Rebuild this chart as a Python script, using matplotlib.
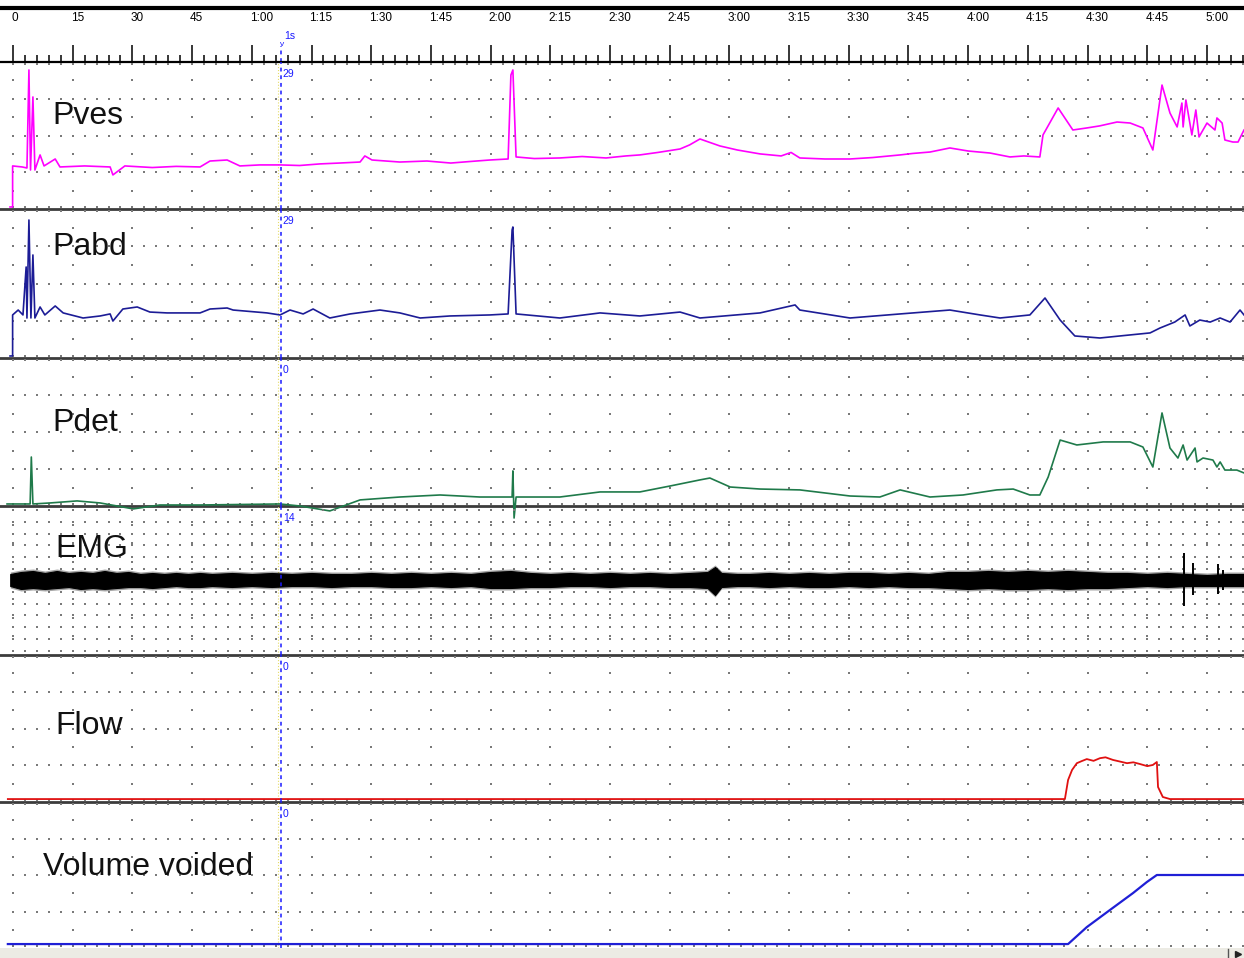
import numpy as np
import matplotlib.pyplot as plt
from matplotlib.patches import Rectangle
from matplotlib.lines import Line2D

plt.rcParams['font.family'] = ['Liberation Sans', 'DejaVu Sans']

W, H = 1244, 958
T_LEFT, T_RIGHT = -3.27, 309.3

# time ruler (seconds)
tick_secs = list(range(0, 301, 15))
tick_labels = ['0', '15', '30', '45', '1:00', '1:15', '1:30', '1:45', '2:00', '2:15', '2:30',
               '2:45', '3:00', '3:15', '3:30', '3:45', '4:00', '4:15', '4:30', '4:45', '5:00']

cursor_t = 67.3
cursor_vals = ['29', '29', '0', '14', '0', '0']

# Pves (cmH2O)
pves_t = [-0.75, -0.1, -0.1, 2.3, 3.5, 4.0, 4.4, 5.0, 5.5, 6.8, 7.8, 10.6, 11.8, 18.0, 24.4,
          25.1, 28.1, 35.0, 41.0, 47.0, 49.5, 53.8, 57.0, 62.0, 67.3, 72.0, 77.1, 82.0, 87.2,
          88.4, 90.2, 97.2, 104.0, 110.0, 115.0, 119.8, 124.4, 125.1, 125.6, 126.4, 131.0,
          137.4, 143.0, 149.0, 154.0, 157.5, 162.0, 167.6, 170.0, 172.6, 177.6, 182.0, 187.7,
          193.0, 195.5, 197.7, 204.0, 210.3, 216.0, 222.9, 226.0, 230.4, 235.4, 240.0, 245.5,
          250.5, 254.0, 258.0, 258.8, 262.6, 266.3, 269.8, 273.0, 277.4, 280.7, 283.9, 286.4,
          288.7, 290.7, 292.5, 293.7, 294.0, 294.7, 296.2, 297.2, 298.0, 300.0, 302.0, 302.5,
          303.8, 304.5, 306.5, 307.8, 309.3]
pves = [0, 0, 28.3, 27.6, 26.9, 94.5, 25.5, 75.9, 25.5, 35.9, 28.3, 33.1, 27.6, 28.3, 27.6,
        22.1, 28.3, 27.2, 28.0, 27.6, 31.7, 32.4, 28.3, 29.0, 29.0, 28.6, 29.7, 30.3, 31.0,
        35.2, 32.4, 31.0, 31.7, 30.3, 31.4, 32.4, 33.1, 91.0, 94.5, 34.5, 33.4,
        33.8, 34.8, 33.8, 35.2, 35.9, 37.6, 40.0, 42.8, 46.9, 42.1, 39.3, 36.6,
        35.2, 37.6, 33.8, 33.1, 33.1, 34.1, 35.9, 36.9, 37.9, 40.7, 38.6, 37.2,
        34.5, 35.2, 34.5, 49.7, 68.3, 53.1, 54.5, 55.9, 58.6, 57.9, 54.5, 39.3,
        84.1, 64.8, 55.2, 71.7, 55.2, 73.8, 49.7, 66.9, 48.3, 57.9, 53.1, 61.4,
        57.9, 46.2, 44.8, 44.8, 53.1]

# Pabd (cmH2O)
pabd_t = [-0.75, -0.1, -0.1, 1.3, 2.5, 3.3, 3.5, 4.0, 4.5, 5.0, 5.5, 6.8, 8.0, 10.6, 12.6, 17.6,
          21.9, 24.4, 25.1, 27.6, 31.2, 34.4, 38.7, 47.0, 49.5, 53.8, 55.3, 63.8, 67.1, 69.6,
          72.9, 75.4, 79.6, 84.7, 92.2, 97.2, 102.3, 109.8, 119.8, 124.4, 125.4, 125.6, 126.4,
          137.4, 147.5, 157.5, 167.6, 172.6, 187.7, 196.5, 197.7, 210.3, 222.9, 235.4, 243.0,
          248.0, 255.5, 259.3, 263.1, 266.8, 273.1, 278.1, 285.7, 288.2, 291.9, 294.5, 295.7,
          298.2, 300.8, 303.3, 305.8, 308.3, 309.3]
pabd = [0, 0, 28.3, 31.7, 28.3, 61.4, 26.2, 93.8, 26.2, 69.7, 26.2, 33.8, 28.3, 34.5, 29.7, 26.2,
        27.6, 29.0, 24.1, 32.4, 33.8, 30.3, 29.7, 29.7, 32.4, 33.1, 31.7, 29.7, 28.3, 31.7,
        29.0, 32.4, 26.2, 29.0, 31.7, 29.7, 26.2, 27.6, 28.3, 29.0, 86.9, 89.0, 29.0,
        26.2, 29.7, 27.6, 30.3, 26.2, 29.7, 35.2, 31.7, 26.2, 29.0, 31.7, 28.3,
        26.2, 28.3, 40.0, 24.8, 13.8, 12.4, 13.8, 15.9, 19.3, 23.4, 28.3, 20.7,
        24.8, 23.4, 26.2, 23.4, 31.7, 28.3]

# Pdet (cmH2O)
pdet_t = [-1.5, 4.3, 4.6, 5.0, 9.3, 16.1, 21.9, 30.2, 36.9, 47.0, 67.1, 72.1, 79.6, 87.2, 97.2,
          107.3, 117.3, 125.4, 125.6, 125.9, 126.4, 137.4, 147.5, 157.5, 165.1, 172.6, 175.1,
          180.2, 187.7, 197.7, 210.3, 217.8, 222.9, 230.4, 238.7, 247.2, 251.3, 255.5, 258.0,
          260.1, 263.1, 267.3, 273.9, 280.7, 283.9, 286.4, 288.7, 290.7, 292.7, 294.0, 295.0,
          297.0, 297.5, 299.0, 301.5, 302.5, 303.3, 304.5, 307.5, 309.3]
pdet = [0, 0, 32.4, 0, 0.7, 2.1, 0.7, -3.4, -0.7, -0.7, 0, -1.4, -4.8, 2.8, 4.8,
        6.2, 4.8, 4.8, 22.8, -9.7, 4.8, 4.8, 8.3, 8.3, 12.4, 16.6, 17.9,
        11.7, 10.3, 9.7, 5.5, 4.8, 9.7, 4.8, 6.2, 9.7, 10.3, 6.2, 6.2,
        18.6, 44.1, 40.7, 42.8, 42.8, 39.3, 25.5, 62.8, 38.6, 31.7, 40.7, 30.3,
        38.6, 29.0, 31.7, 30.3, 25.5, 29.0, 23.4, 23.4, 21.4]

# EMG envelope (upper / lower amplitude)
emg_t = [-0.7, 2, 5, 8, 11, 14, 17, 20, 23, 26, 29, 32,
         35, 38, 41, 44, 47, 50, 55, 60, 65, 70, 75, 80,
         85, 90, 95, 100, 105, 110, 115, 120, 125, 130, 135, 140,
         145, 150, 155, 160, 165, 170, 174.5, 176.4, 178, 182, 185, 190,
         195, 200, 205, 210, 215, 220, 225, 230, 235, 240, 245, 250,
         255, 260, 265, 270, 275, 280, 285, 290, 295, 300, 305, 309.3]
emg_hi = [6, 8, 9, 7, 9, 7, 8, 7, 9, 7, 8, 6,
          7, 6, 7, 6, 7, 6, 7, 6, 7, 6, 7, 6,
          6, 7, 6, 7, 6, 7, 6, 8, 9, 7, 6, 7,
          6, 7, 6, 7, 6, 7, 8, 13, 7, 6, 6, 7,
          6, 7, 6, 7, 7, 6, 7, 6, 8, 8, 9, 8,
          9, 8, 9, 8, 7, 7, 6, 7, 6, 5, 6, 6]
emg_lo = [6, 9, 8, 9, 8, 7, 9, 8, 9, 8, 7, 7,
          8, 7, 6, 7, 7, 6, 7, 6, 7, 6, 6, 7,
          6, 6, 7, 7, 6, 7, 6, 8, 8, 7, 7, 6,
          6, 7, 6, 6, 7, 7, 8, 15, 7, 6, 6, 7,
          6, 7, 7, 6, 7, 6, 7, 7, 8, 9, 8, 9,
          9, 8, 9, 8, 8, 7, 6, 7, 6, 6, 6, 6]
emg_spike_t = [294.2, 296.5, 302.7, 304.0]
emg_spike_hi = [27, 17, 16, 10]
emg_spike_lo = [26, 15, 14, 10]

# Flow (ml/s)
flow_t = [-1.3, 264.3, 265.1, 266.1, 267.3, 268.5, 269.8, 271.5, 273.1, 274.5, 276.4, 278.0,
          279.9, 281.5, 283.2, 285.0, 286.4, 287.4, 287.7, 288.9, 290.7, 309.3]
flow = [0, 0, 6.5, 9.9, 12.2, 12.9, 13.6, 13.0, 13.9, 14.2, 13.3, 12.8,
        12.2, 12.5, 11.9, 11.2, 11.6, 12.6, 4.1, 0.7, 0, 0]

# Volume voided (ml)
vol_t = [-1.3, 265.1, 269.8, 275.6, 281.4, 284.9, 287.4, 309.3]
vol = [0, 0, 116, 233, 349, 425, 473, 473]

fig = plt.figure(figsize=(W / 100, H / 100), dpi=100)
fig.patch.set_facecolor('white')


def add_px_axes(top, bottom):
    ax = fig.add_axes([0, 1 - bottom / H, 1, (bottom - top) / H])
    ax.set_xlim(T_LEFT, T_RIGHT)
    ax.set_xticks([])
    ax.set_yticks([])
    ax.patch.set_alpha(0)
    return ax


def draw_dots(ax, row_fracs, col_fracs):
    tr = ax.get_xaxis_transform()
    minor = np.arange(0, T_RIGHT, 3)
    rx, ry = np.meshgrid(minor, row_fracs)
    ax.scatter(rx.ravel(), ry.ravel(), s=2.2, marker='s', c='#7a7a7a', linewidths=0,
               transform=tr, zorder=1)
    cx, cy = np.meshgrid(tick_secs, col_fracs)
    ax.scatter(cx.ravel(), cy.ravel(), s=2.2, marker='s', c='#7a7a7a', linewidths=0,
               transform=tr, zorder=1)


# ruler on top
ruler = add_px_axes(7.5, 62)
ruler.set_ylim(0, 1)
ruler.spines['left'].set_visible(False)
ruler.spines['right'].set_visible(False)
ruler.spines['top'].set_linewidth(3)
ruler.spines['bottom'].set_linewidth(1.6)
ruler.set_xticks(tick_secs)
ruler.set_xticks(np.arange(0, T_RIGHT, 3), minor=True)
ruler.tick_params(axis='x', which='major', direction='in', length=12, width=1.1,
                  labelbottom=False)
ruler.tick_params(axis='x', which='minor', direction='in', length=5, width=1.1)
for s, lab in zip(tick_secs, tick_labels):
    ruler.text(s - 0.5, 0.80, lab, ha='left', va='center', fontsize=8.5, color='black',
               family=['Liberation Sans Narrow', 'Liberation Sans'])
ruler.axvline(cursor_t, ymin=0, ymax=0.3, color='#1a1aff', lw=1.1, ls=(0, (2.5, 2.5)))
ruler.text(cursor_t + 0.8, 0.48, '1s', fontsize=7.5, color='#1a1aff', ha='left', va='center')
ruler.text(cursor_t + 0.3, 0.33, 'v', fontsize=6, color='#1a1aff', ha='center', va='center')

panel_px = [(62, 209), (209, 358), (358, 506), (506, 655), (655, 802), (802, 948)]
names = ['Pves', 'Pabd', 'Pdet', 'EMG', 'Flow', 'Volume voided']
ylims = [(-1.4, 100), (-1.4, 101.4), (-1.4, 100.7), (-75, 74), (-1.0, 49), (-27, 973)]
label_x = [9.8, 9.8, 9.8, 10.55, 10.55, 7.54]
label_y = [0.633, 0.745, 0.56, 0.71, 0.517, 0.555]
std_rows = [0.015, 0.25, 0.5, 0.75, 0.985]
std_cols = [k / 8 for k in range(1, 8)]
emg_rows = [0.03 + k * 0.0785 for k in range(13)]

axes = []
for i, (top, bot) in enumerate(panel_px):
    ax = add_px_axes(top, bot)
    ax.set_ylim(*ylims[i])
    for side in ['left', 'right', 'top']:
        ax.spines[side].set_visible(False)
    if i < 5:
        ax.spines['bottom'].set_linewidth(2.0)
        ax.spines['bottom'].set_color('#3c3c3c')
    else:
        ax.spines['bottom'].set_visible(False)
    if names[i] == 'EMG':
        draw_dots(ax, emg_rows, std_cols)
    else:
        draw_dots(ax, std_rows, std_cols)
    ax.text(label_x[i], label_y[i], names[i], transform=ax.get_xaxis_transform(),
            fontsize=23, ha='left', va='center', color='#111111', zorder=5)
    ax.axvline(cursor_t - 0.7, color='#e6dc6a', lw=0.8, ls=':', zorder=2)
    ax.axvline(cursor_t, color='#1a1aff', lw=1.1, ls=(0, (2.5, 2.5)), zorder=4)
    ax.text(cursor_t + 0.5, 0.92, cursor_vals[i], transform=ax.get_xaxis_transform(),
            fontsize=7.5, color='#1a1aff', ha='left', va='center', zorder=5)
    axes.append(ax)

ax_pves, ax_pabd, ax_pdet, ax_emg, ax_flow, ax_vol = axes

ax_pves.plot(pves_t, pves, color='#ff00ff', lw=1.2, zorder=3)
ax_pabd.plot(pabd_t, pabd, color='#1c1c96', lw=1.2, zorder=3)
ax_pdet.plot(pdet_t, pdet, color='#1f7a4a', lw=1.2, zorder=3, clip_on=False)

hi = np.array(emg_hi)
lo = np.array(emg_lo)
ax_emg.fill_between(emg_t, hi + 2, -lo - 2, color='black', alpha=0.35, lw=0, zorder=3)
ax_emg.fill_between(emg_t, hi, -lo, color='black', lw=0.8, zorder=3)
ax_emg.vlines(emg_spike_t, -np.array(emg_spike_lo), np.array(emg_spike_hi),
              color='black', lw=1.4, zorder=3)

ax_flow.plot(flow_t, flow, color='#e01010', lw=1.3, zorder=3)
ax_vol.plot(vol_t, vol, color='#1f1fd6', lw=1.6, zorder=3)

# status strip at the bottom
fig.add_artist(Rectangle((0, 0), 1, 10 / H, transform=fig.transFigure,
                         facecolor='#ecebe4', edgecolor='none'))
fig.add_artist(Line2D([1228 / W, 1228 / W], [0, 9 / H], transform=fig.transFigure,
                      color='#555555', lw=1))
fig.add_artist(Line2D([1238 / W], [4 / H], transform=fig.transFigure, marker='>',
                      markersize=4, color='#222222', lw=0))

fig.savefig('out.png', dpi=100, facecolor='white')
